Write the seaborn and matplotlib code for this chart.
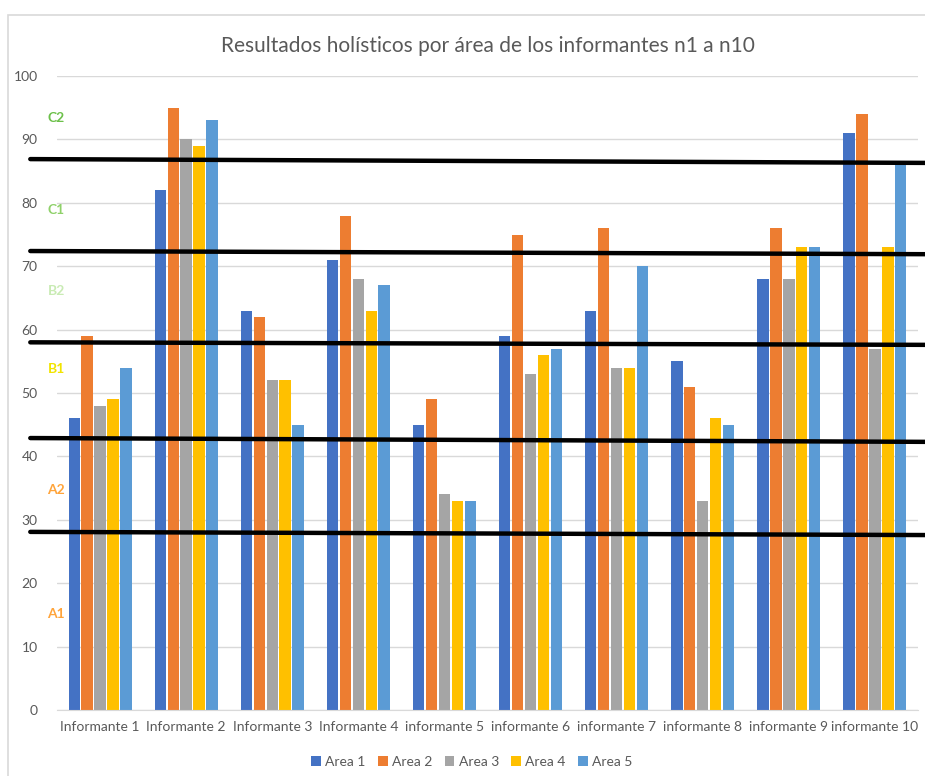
import pandas as pd
import matplotlib.pyplot as plt
import seaborn as sns
from matplotlib.patches import Rectangle

# ---------- data ----------
informantes = ["Informante 1", "Informante 2", "Informante 3", "Informante 4", "informante 5",
               "informante 6", "informante 7", "informante 8", "informante 9", "informante 10"]
areas = ["Area 1", "Area 2", "Area 3", "Area 4", "Area 5"]

area1 = [46, 82, 63, 71, 45, 59, 63, 55, 68, 91]
area2 = [59, 95, 62, 78, 49, 75, 76, 51, 76, 94]
area3 = [48, 90, 52, 68, 34, 53, 54, 33, 68, 57]
area4 = [49, 89, 52, 63, 33, 56, 54, 46, 73, 73]
area5 = [54, 93, 45, 67, 33, 57, 70, 45, 73, 86]

# hand-drawn level cut lines (value at left end, value at right end)
cut_left = [86.9, 72.4, 58.0, 42.9, 28.1]
cut_right = [86.3, 71.9, 57.6, 42.3, 27.6]

level_names = ["C2", "C1", "B2", "B1", "A2", "A1"]
level_values = [93.4, 78.9, 66.1, 53.8, 34.7, 15.1]
level_colors = ["#6cc04a", "#8fd16a", "#c9ebb4", "#f2e400", "#ffa43a", "#ffa43a"]

palette = ["#4472c4", "#ed7d31", "#a5a5a5", "#ffc000", "#5b9bd5"]

# ---------- style ----------
sns.set_style("white")
plt.rcParams['font.family'] = ['Lato', 'DejaVu Sans']
TEXT = "#595959"

df = pd.DataFrame({
    "informante": informantes * 5,
    "area": [a for a in areas for _ in informantes],
    "valor": area1 + area2 + area3 + area4 + area5,
})

fig = plt.figure(figsize=(9.25, 7.76), dpi=100)
ax = fig.add_axes([0.0616, 0.085, 0.9308, 0.817])

sns.barplot(data=df, x="informante", y="valor", hue="area", palette=palette,
            width=0.75, gap=0.12, order=informantes, hue_order=areas, ax=ax,
            legend=True, saturation=1, linewidth=0)

ax.set_ylim(0, 100)
ax.set_xlim(-0.5, 9.5)
ax.set_yticks(range(0, 101, 10))
ax.grid(axis='y', color="#d9d9d9", linewidth=1)
ax.set_axisbelow(True)
ax.set_xlabel("")
ax.set_ylabel("")
ax.tick_params(axis='both', length=0, labelsize=10, labelcolor=TEXT)
ax.tick_params(axis='x', pad=8)
ax.tick_params(axis='y', pad=14)
sns.despine(ax=ax, left=True)
ax.spines['bottom'].set_color("#d9d9d9")

# level cut lines (extend past the plot area like the hand-drawn ones)
for yl, yr in zip(cut_left, cut_right):
    ax.plot([-0.81, 9.6], [yl, yr], color="black", linewidth=3.2, clip_on=False, zorder=5)

# level labels
for name, val, col in zip(level_names, level_values, level_colors):
    ax.text(-0.51, val, name, color=col, fontsize=10, fontweight='bold',
            ha='center', va='center', clip_on=False)

ax.set_title("Resultados holísticos por área de los informantes n1 a n10",
             color=TEXT, fontsize=15, pad=17)

# legend
handles, labels = ax.get_legend_handles_labels()
ax.legend_.remove()
fig.legend(handles, labels, loc='center', bbox_to_anchor=(0.51, 0.018), ncol=5,
           frameon=False, fontsize=10, handlelength=0.7, handleheight=0.7,
           handletextpad=0.3, columnspacing=0.9, labelcolor=TEXT)

# chart frame
fig.patches.append(Rectangle((8 / 925, -0.1), 1.2, 1 - 15 / 776 + 0.1,
                             transform=fig.transFigure, fill=False,
                             edgecolor="#d9d9d9", linewidth=1.2))

fig.savefig("out.png", dpi=100)
